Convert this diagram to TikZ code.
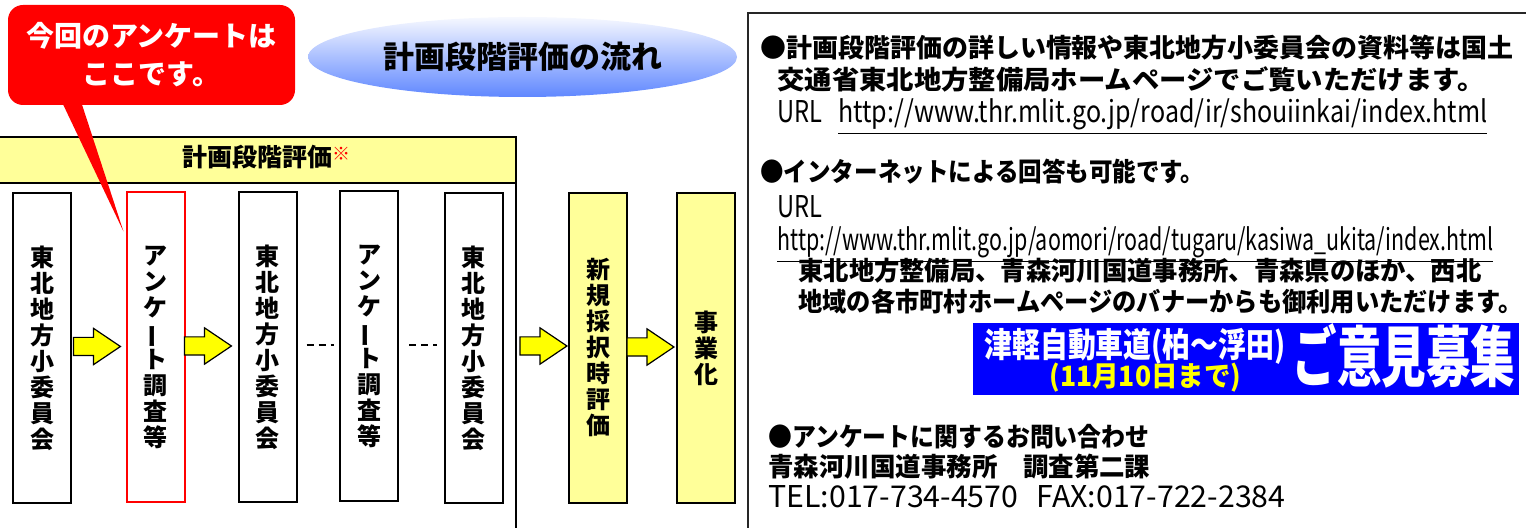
\documentclass[tikz,border=0pt]{standalone}
\usepackage{fontspec}
\setmainfont{Noto Sans CJK JP}
\usetikzlibrary{shapes.arrows,shapes.geometric,calc}
\definecolor{lyel}{HTML}{FFFF99}
\definecolor{ayel}{HTML}{FFFF00}
\definecolor{bblue}{HTML}{0000FF}
\definecolor{callred}{HTML}{FF0000}
\newcommand\wfit[2]{\resizebox{#1}{\height}{#2}}
\newcommand\vbar{\rotatebox[origin=c]{90}{ー}}
\begin{document}
\begin{tikzpicture}[x=0.5pt,y=-0.5pt,
  vbox/.style={draw=black,line width=1pt,minimum width=29pt,minimum height=155pt,inner sep=0pt,align=center,
    font=\bfseries\fontsize{12pt}{13pt}\selectfont},
  blockarrow/.style={single arrow,draw=black,fill=ayel,line width=0.6pt,minimum height=23.5pt,
    inner xsep=0pt,inner ysep=4.25pt,single arrow head extend=4.5pt,single arrow tip angle=68,anchor=tip},
  rt/.style={anchor=base west,inner sep=0pt,font=\bfseries\fontsize{13pt}{13pt}\selectfont},
  rl/.style={anchor=base west,inner sep=0pt,font=\fontsize{15pt}{15pt}\selectfont},
  dots/.style={line width=0.8pt,dash pattern=on 3.5pt off 2.5pt}]
\useasboundingbox (0,0) rectangle (1526,528);
\clip (0,0) rectangle (1526,528);
% ---------- left panel ----------
\draw[line width=1pt,fill=white] (-5,137) rectangle (516,560);
\draw[line width=1pt,fill=lyel] (-5,137) rectangle (516,183);
\node[inner sep=0pt,font=\bfseries\fontsize{12.5pt}{13pt}\selectfont] (hdr) at (266,157)
  {計画段階評価\textcolor{red}{\raisebox{3pt}{\fontsize{9pt}{9pt}\selectfont ※}}};
\node[vbox] (b1) at (42,348) {東\\北\\地\\方\\小\\委\\員\\会};
\node[vbox,draw=red] (b2) at (155.5,347.5) {ア\\ン\\ケ\\\vbar\\ト\\調\\査\\等};
\node[vbox] (b3) at (267.5,347) {東\\北\\地\\方\\小\\委\\員\\会};
\node[vbox] (b4) at (369,346) {ア\\ン\\ケ\\\vbar\\ト\\調\\査\\等};
\node[vbox] (b5) at (473.5,348) {東\\北\\地\\方\\小\\委\\員\\会};
\node[vbox,fill=lyel] (b6) at (598,348) {新\\規\\採\\択\\時\\評\\価};
\node[vbox,fill=lyel] (b7) at (706,348) {事\\業\\化};
\node[blockarrow] (a1) at ($(b2.west)+(-4,-1)$) {};
\node[blockarrow] (a2) at ($(b3.west)+(-5,-1)$) {};
\node[blockarrow] (a3) at ($(b6.west)+(0,-2)$) {};
\node[blockarrow] (a4) at ($(b7.west)+(-1,-1)$) {};
\draw[dots] ($(b3.east)+(9,-2)$) -- ($(b4.west)+(-5,-1)$);
\draw[dots] ($(b4.east)+(10,-1)$) -- ($(b5.west)+(-7,-3)$);
% ---------- callout ----------
\node[fill=callred,rounded corners=7.5pt,minimum width=143.5pt,minimum height=50pt,inner sep=0pt,
  text=white,align=center,font=\bfseries\fontsize{14pt}{19pt}\selectfont] (call) at (151.5,55)
  {今回のアンケートは\\ここです。};
\coordinate (tip) at ($(b2.north west)+(-2,40)$);
\fill[callred] ($(call.south west)+(55,-2)$) -- ($(call.south west)+(74,-2)$) -- (tip) -- cycle;
% ---------- title ellipse ----------
\node[ellipse,minimum width=214.5pt,minimum height=40pt,inner sep=0pt,
  top color={rgb,255:red,246;green,248;blue,255},bottom color={rgb,255:red,95;green,135;blue,255},
  font=\bfseries\fontsize{15.5pt}{16pt}\selectfont] (title) at (522.5,57) {計画段階評価の流れ};
% ---------- right panel ----------
\draw[line width=1pt,draw=black!85] (748,13) rectangle (1540,560);
\node[rt] (t1) at (760,58) {\wfit{376.5pt}{●計画段階評価の詳しい情報や東北地方小委員会の資料等は国土}};
\node[rt] (t2) at (777,90) {\wfit{353.5pt}{交通省東北地方整備局ホームページでご覧いただけます。}};
\node[rl] (t3a) at (777,123) {\wfit{22.5pt}{URL}};
\node[rl] (t3b) at (838,123) {\wfit{324.5pt}{\underline{http://www.thr.mlit.go.jp/road/ir/shouiinkai/index.html}}};
\node[rt] (t4) at (760,182) {\wfit{222pt}{●インターネットによる回答も可能です。}};
\node[rl] (t5) at (777,218) {\wfit{22.5pt}{URL}};
\node[rl] (t6) at (777,251) {\wfit{358pt}{\underline{http://www.thr.mlit.go.jp/aomori/road/tugaru/kasiwa\_ukita/index.html}}};
\node[rt] (t7) at (798,281) {\wfit{341.5pt}{東北地方整備局、青森河川国道事務所、青森県のほか、西北}};
\node[rt] (t8) at (798,312) {\wfit{362pt}{地域の各市町村ホームページのバナーからも御利用いただけます。}};
\node[fill=bblue,minimum width=273pt,minimum height=36pt,inner sep=0pt] (ban) at (1245.5,359) {};
\node[rt,text=white,font=\bfseries\fontsize{17pt}{17pt}\selectfont] (bt1) at (984,358)
  {\wfit{150.5pt}{津軽自動車道(柏～浮田)}};
\node[rt,text=ayel,font=\bfseries\fontsize{14pt}{14pt}\selectfont] (bt2) at (1049,387)
  {\wfit{96pt}{(11月10日まで)}};
\node[rt,text=white,font=\bfseries\fontsize{33pt}{33pt}\selectfont] (bt3) at (1292,382)
  {\wfit{111.5pt}{ご意見募集}};
\node[rt] (t9) at (768,447) {\wfit{190.5pt}{●アンケートに関するお問い合わせ}};
\node[rt] (t10) at (768,477) {\wfit{191pt}{青森河川国道事務所　調査第二課}};
\node[rl] (t11) at (768,508) {\wfit{258.5pt}{TEL:017-734-4570\hspace{0.6em}FAX:017-722-2384}};
\end{tikzpicture}
\end{document}
